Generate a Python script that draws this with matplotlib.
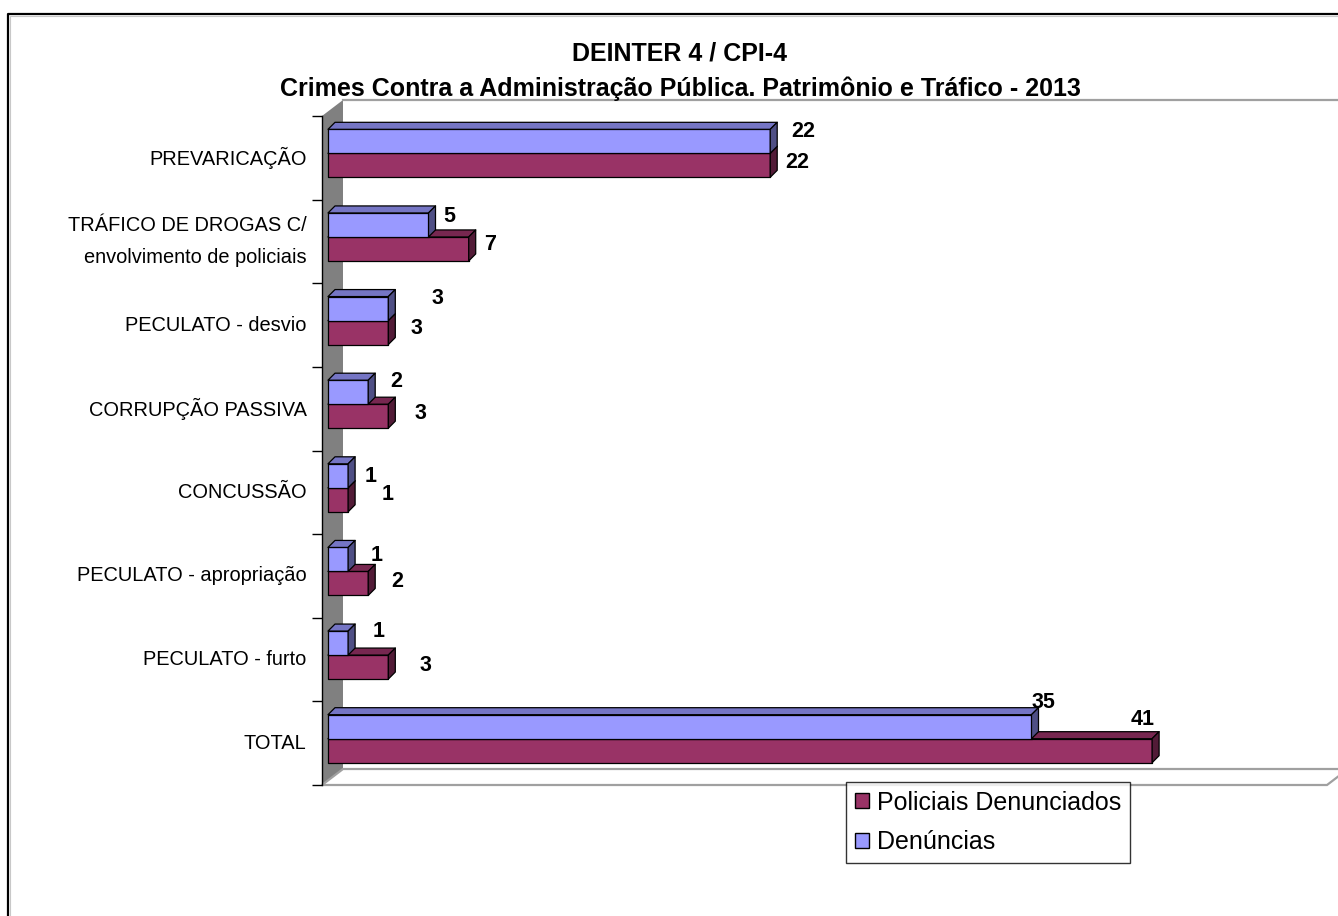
import matplotlib.pyplot as plt
from matplotlib.patches import Polygon, Patch
from matplotlib.lines import Line2D

plt.rcParams["font.family"] = ["Liberation Sans", "DejaVu Sans"]

# data (top to bottom as in the chart)
categories = ["PREVARICAÇÃO", "TRÁFICO DE DROGAS C/\nenvolvimento de policiais",
              "PECULATO - desvio", "CORRUPÇÃO PASSIVA", "CONCUSSÃO",
              "PECULATO - apropriação", "PECULATO - furto", "TOTAL"]
denuncias = [22, 5, 3, 2, 1, 1, 1, 35]
policiais = [22, 7, 3, 3, 1, 2, 3, 41]
series_names = ["Policiais Denunciados", "Denúncias"]

title = "DEINTER 4 / CPI-4\nCrimes Contra a Administração Pública. Patrimônio e Tráfico - 2013"

# label nudges in pixels (dx, dy) relative to the bar end, like Excel placed them
blue_nudge = [(33, 10), (21, 8), (49, 10), (28, 11), (23, -1), (29, 4), (31, 12), (12, 24)]
red_nudge = [(27, 3), (21, 4), (28, 4), (32, 3), (40, 5), (29, 2), (37, 2), (-9, 31)]

W, H = 1338, 916
fig = plt.figure(figsize=(W / 100, H / 100), dpi=100)
fig.patch.set_facecolor("white")

# outer frame of the chart area
frame = fig.add_axes([0, 0, 1, 1])
frame.set_xlim(0, W)
frame.set_ylim(H, 0)
frame.axis("off")
frame.plot([8, 8, W + 5], [H + 5, 14, 14], color="black", lw=1.6, clip_on=False)
frame.plot([10, 10, W + 5], [H + 5, 16, 16], color="#c8c8c8", lw=0.8, clip_on=False)

# front plane of the plot
x0, x1, ytop, ybot = 322, 1327, 116, 785
ax = fig.add_axes([x0 / W, 1 - ybot / H, (x1 - x0) / W, (ybot - ytop) / H])
xmax = 50
n = len(categories)
ax.set_xlim(0, xmax)
ax.set_ylim(0, n)
ax.patch.set_visible(False)

px = xmax / (x1 - x0)
py = n / (ybot - ytop)

# wall / floor depth
dw, dh = 21 * px, 16 * py
wall = Polygon([(0, 0), (0, n), (dw, n + dh), (dw, dh)], closed=True,
               facecolor="#808080", edgecolor="none", clip_on=False, zorder=1)
ax.add_patch(wall)
floor = Polygon([(0, 0), (xmax, 0), (xmax + dw, dh), (dw, dh)], closed=True,
                facecolor="white", edgecolor="#a0a0a0", lw=1.6, clip_on=False, zorder=1)
ax.add_patch(floor)
ax.add_line(Line2D([dw, xmax + dw], [n + dh, n + dh], color="#a0a0a0", lw=1.6,
                   clip_on=False, zorder=1))

# bars
sx, sy = 6 * px, 4.5 * py  # bar plane shift
bx, by = 7 * px, 7 * py    # bar depth
h = 24 * py

BLUE, BLUE_TOP, BLUE_SIDE = "#9999FF", "#7575C4", "#4F4F85"
RED, RED_TOP, RED_SIDE = "#993366", "#772750", "#521B37"


def box(v, y0, front, top, side):
    xa, xb = sx, sx + v * 1.0
    ya, yb = y0, y0 + h
    faces = [
        ([(xa, ya), (xb, ya), (xb, yb), (xa, yb)], front),
        ([(xa, yb), (xb, yb), (xb + bx, yb + by), (xa + bx, yb + by)], top),
        ([(xb, ya), (xb + bx, ya + by), (xb + bx, yb + by), (xb, yb)], side),
    ]
    for pts, col in faces:
        ax.add_patch(Polygon(pts, closed=True, facecolor=col, edgecolor="black",
                             lw=0.9, joinstyle="round", clip_on=False, zorder=3))


for i in range(n):
    c = n - 1 - i
    yc = c + 0.5 + sy
    box(policiais[i], yc - h, RED, RED_TOP, RED_SIDE)
    box(denuncias[i], yc, BLUE, BLUE_TOP, BLUE_SIDE)
    ax.annotate(str(denuncias[i]), (sx + denuncias[i], yc + h / 2),
                xytext=blue_nudge[i], textcoords="offset pixels",
                ha="center", va="center", fontsize=15.5, fontweight="bold",
                annotation_clip=False, zorder=5)
    ax.annotate(str(policiais[i]), (sx + policiais[i], yc - h / 2),
                xytext=red_nudge[i], textcoords="offset pixels",
                ha="center", va="center", fontsize=15.5, fontweight="bold",
                annotation_clip=False, zorder=5)

# axis: left spine with ticks at band borders, labels at centres
for s in ["top", "right", "bottom"]:
    ax.spines[s].set_visible(False)
ax.spines["left"].set_color("black")
ax.spines["left"].set_linewidth(1.0)
ax.spines["left"].set_zorder(4)
ax.set_xticks([])
ax.set_yticks(range(n + 1))
ax.set_yticklabels([])
ax.tick_params(axis="y", which="major", length=7.5, width=1.0, color="black")
ax.set_yticks([c + 0.5 for c in range(n)], minor=True)
ax.set_yticklabels(categories[::-1], minor=True, fontsize=14.4, linespacing=1.9,
                   va="center")
ax.tick_params(axis="y", which="minor", length=0, pad=11)

fig.text(680 / W, 1 - 71 / H, title, ha="center", va="center", fontsize=18,
         fontweight="bold", linespacing=1.55)

handles = [Patch(facecolor=RED, edgecolor="black", lw=1.0),
           Patch(facecolor=BLUE, edgecolor="black", lw=1.0)]
leg = fig.legend(handles, series_names, loc="upper left",
                 bbox_to_anchor=(846 / W, 1 - 782 / H), frameon=True, fancybox=False,
                 edgecolor="black", fontsize=18, handlelength=0.55, handleheight=0.55,
                 handletextpad=0.35, labelspacing=0.62, borderpad=0.35, borderaxespad=0)
leg.get_frame().set_linewidth(1.0)

fig.savefig("out.png", dpi=100)
